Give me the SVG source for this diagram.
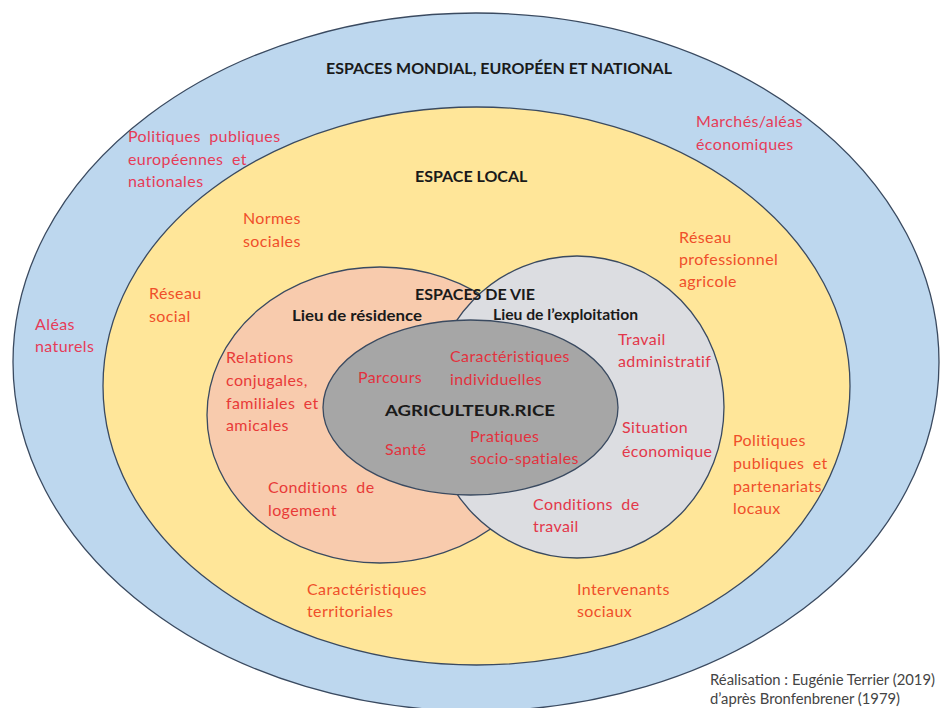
<svg xmlns="http://www.w3.org/2000/svg" width="940" height="708" viewBox="0 0 940 708">
<style>
text{font-family:Lato,"Liberation Sans",sans-serif;font-size:16px;letter-spacing:0.4px}
.ring{stroke:#3a4a60;stroke-width:1.3}
.h{font-weight:bold;fill:#1a1a1a;letter-spacing:0}
.w{word-spacing:4px}
.rb{fill:#e63c58}
.ry{fill:#ef4f2a}
.ro{fill:#e83a38}
.rg{fill:#e3374a}
.rd{fill:#e2323e}
.credit{fill:#444;font-size:14.5px;letter-spacing:0}
</style>
<rect width="940" height="708" fill="#fff"/>
<g id="espaces-mondial">
<ellipse class="ring" cx="476" cy="362" rx="463" ry="349" fill="#bdd7ee"/>
<text class="h" x="326" y="74" font-size="16.5" textLength="346" lengthAdjust="spacingAndGlyphs">ESPACES MONDIAL, EUROPÉEN ET NATIONAL</text>
<text class="rb w" x="128" y="142">Politiques publiques</text>
<text class="rb w" x="128" y="165">européennes et</text>
<text class="rb" x="128" y="187">nationales</text>
<text class="rb" x="696" y="127">Marchés/aléas</text>
<text class="rb" x="696" y="150">économiques</text>
<text class="rb" x="35" y="330">Aléas</text>
<text class="rb" x="35" y="352">naturels</text>
</g>
<g id="espace-local">
<ellipse class="ring" cx="476.5" cy="386" rx="373.5" ry="279" fill="#ffe699"/>
<text class="h" x="415" y="182" font-size="15.8">ESPACE LOCAL</text>
<text class="ry" x="243" y="224">Normes</text>
<text class="ry" x="243" y="247">sociales</text>
<text class="ry" x="149" y="299">Réseau</text>
<text class="ry" x="149" y="322">social</text>
<text class="ry" x="679" y="243">Réseau</text>
<text class="ry" x="679" y="265">professionnel</text>
<text class="ry" x="679" y="287">agricole</text>
<text class="ry" x="733" y="446">Politiques</text>
<text class="ry w" x="733" y="469">publiques et</text>
<text class="ry" x="733" y="492">partenariats</text>
<text class="ry" x="733" y="514">locaux</text>
<text class="ry" x="307" y="595">Caractéristiques</text>
<text class="ry" x="307" y="617">territoriales</text>
<text class="ry" x="577" y="595">Intervenants</text>
<text class="ry" x="577" y="617">sociaux</text>
</g>
<g id="lieu-residence">
<ellipse class="ring" cx="380" cy="415" rx="173" ry="148" fill="#f8cbad"/>
<text class="h" x="292" y="321" font-size="15.5" textLength="130" lengthAdjust="spacingAndGlyphs">Lieu de résidence</text>
<text class="ro" x="226" y="363">Relations</text>
<text class="ro" x="226" y="386">conjugales,</text>
<text class="ro w" x="226" y="409">familiales et</text>
<text class="ro" x="226" y="431">amicales</text>
<text class="ro w" x="268" y="493">Conditions de</text>
<text class="ro" x="268" y="516">logement</text>
</g>
<g id="lieu-exploitation">
<ellipse class="ring" cx="577" cy="407" rx="147" ry="151" fill="#dcdde1"/>
<text class="h" x="415" y="300" font-size="14.6">ESPACES DE VIE</text>
<text class="h" x="493" y="320" font-size="14.6" textLength="145" lengthAdjust="spacingAndGlyphs">Lieu de l’exploitation</text>
<text class="rg" x="618" y="345">Travail</text>
<text class="rg" x="618" y="367">administratif</text>
<text class="rg" x="622" y="433">Situation</text>
<text class="rg" x="622" y="457">économique</text>
<text class="rg w" x="533" y="510">Conditions de</text>
<text class="rg" x="533" y="532">travail</text>
</g>
<g id="agriculteur">
<ellipse class="ring" cx="470.5" cy="407.5" rx="147.5" ry="87.5" fill="#a6a6a6"/>
<text class="rd" x="358" y="383">Parcours</text>
<text class="rd" x="450" y="362">Caractéristiques</text>
<text class="rd" x="450" y="385">individuelles</text>
<text class="h" x="385" y="416" font-size="19" textLength="170" lengthAdjust="spacingAndGlyphs">AGRICULTEUR.RICE</text>
<text class="rd" x="385" y="455">Santé</text>
<text class="rd" x="470" y="442">Pratiques</text>
<text class="rd" x="470" y="464">socio-spatiales</text>
</g>
<g id="connectors"/>
<g id="credit">
<text class="credit" x="710" y="685" textLength="225" lengthAdjust="spacingAndGlyphs">Réalisation : Eugénie Terrier (2019)</text>
<text class="credit" x="710" y="704" textLength="190" lengthAdjust="spacingAndGlyphs">d’après Bronfenbrener (1979)</text>
</g>
</svg>
